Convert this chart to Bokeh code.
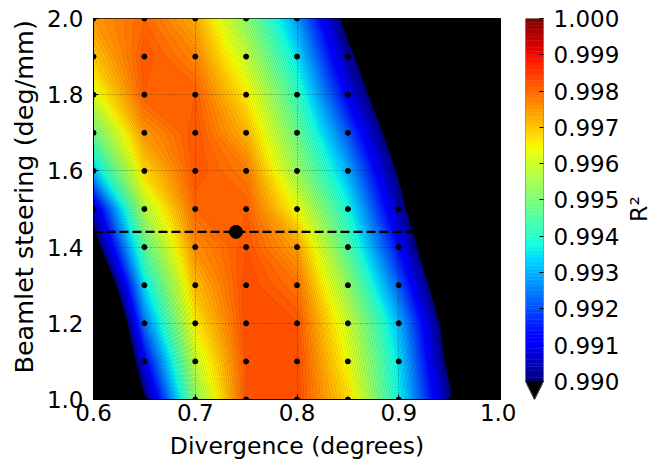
import numpy as np
from bokeh.plotting import figure
from bokeh.models import Range1d, FixedTicker, PrintfTickFormatter
from bokeh.layouts import row
from bokeh.embed import file_html
from bokeh.resources import INLINE

# Scan grid: beam divergence (degrees) x beamlet steering (deg/mm)
divergence = [0.60, 0.65, 0.70, 0.75, 0.80, 0.85, 0.90, 0.95, 1.00]
steering = [1.0, 1.1, 1.2, 1.3, 1.4, 1.5, 1.6, 1.7, 1.8, 1.9, 2.0]

# Goodness of fit R^2, one row per steering value (bottom to top)
r2_s10 = [0.9840, 0.9898, 0.9952, 0.9982, 0.9983, 0.9968, 0.9937, 0.9902, 0.9850]
r2_s11 = [0.9844, 0.9911, 0.9959, 0.9982, 0.9983, 0.9964, 0.9935, 0.9896, 0.9840]
r2_s12 = [0.9849, 0.9924, 0.9966, 0.9983, 0.9982, 0.9960, 0.9931, 0.9892, 0.9830]
r2_s13 = [0.9870, 0.9935, 0.9971, 0.9983, 0.9979, 0.9953, 0.9922, 0.9884, 0.9830]
r2_s14 = [0.9892, 0.9946, 0.9976, 0.9982, 0.9974, 0.9945, 0.9913, 0.9876, 0.9830]
r2_s15 = [0.9906, 0.9957, 0.9980, 0.9981, 0.9964, 0.9938, 0.9905, 0.9868, 0.9825]
r2_s16 = [0.9932, 0.9968, 0.9982, 0.9978, 0.9954, 0.9930, 0.9898, 0.9860, 0.9820]
r2_s17 = [0.9948, 0.9975, 0.9982, 0.9972, 0.9948, 0.9921, 0.9890, 0.9850, 0.9810]
r2_s18 = [0.9962, 0.9981, 0.9981, 0.9966, 0.9942, 0.9911, 0.9883, 0.9840, 0.9800]
r2_s19 = [0.9970, 0.9982, 0.9977, 0.9959, 0.9935, 0.9903, 0.9878, 0.9840, 0.9790]
r2_s20 = [0.9975, 0.9980, 0.9973, 0.9952, 0.9928, 0.9895, 0.9860, 0.9820, 0.9780]

# Best-fit parameters and the steering cut through them
best_divergence = 0.74
best_steering = 1.44
cut_divergence = [0.60, 0.915]

x_ticks = [0.6, 0.7, 0.8, 0.9, 1.0]
y_ticks = [1.0, 1.2, 1.4, 1.6, 1.8, 2.0]
r2_ticks = [0.990, 0.991, 0.992, 0.993, 0.994, 0.995, 0.996, 0.997, 0.998, 0.999, 1.000]
r2_low, r2_high = 0.990, 1.000

FONT = "DejaVu Sans"
FS = "23px"

r2 = np.array([r2_s10, r2_s11, r2_s12, r2_s13, r2_s14, r2_s15,
               r2_s16, r2_s17, r2_s18, r2_s19, r2_s20])
levels = np.linspace(r2_low, r2_high, 101)


def jet(v):
    r = np.interp(v, [0, 0.35, 0.66, 0.89, 1], [0, 0, 1, 1, 0.5])
    g = np.interp(v, [0, 0.125, 0.375, 0.64, 0.91, 1], [0, 0, 1, 1, 0, 0])
    b = np.interp(v, [0, 0.11, 0.34, 0.65, 1], [0.5, 1, 1, 0, 0])
    return "#%02x%02x%02x" % (int(r * 255 + 0.5), int(g * 255 + 0.5), int(b * 255 + 0.5))


def norm(v):
    return (v - r2_low) / (r2_high - r2_low)


mids = 0.5 * (levels[:-1] + levels[1:])
band_colors = [jet(norm(m)) for m in mids]
level_colors = [jet(norm(lv)) for lv in levels]


def style_axis(ax, label_size):
    ax.major_label_text_font = FONT
    ax.major_label_text_font_size = FS
    ax.major_label_text_color = "black"
    ax.axis_label_text_font = FONT
    ax.axis_label_text_font_size = label_size
    ax.axis_label_text_font_style = "normal"
    ax.axis_label_text_color = "black"
    ax.major_tick_in = 5
    ax.major_tick_out = 0
    ax.minor_tick_line_color = None
    ax.major_tick_line_color = "black"
    ax.axis_line_color = "black"


# ---- main R^2 map ----
p = figure(width=516, height=462, x_range=Range1d(0.6, 1.0), y_range=Range1d(1.0, 2.0),
           min_border_left=93, min_border_right=16, min_border_top=18, min_border_bottom=63,
           output_backend="svg", toolbar_location=None,
           background_fill_color="black", border_fill_color="white")
p.outline_line_color = "black"

# filled bands, with matching outlines so neighbouring bands join without seams
p.contour(x=divergence, y=steering, z=r2, levels=levels, fill_color=band_colors,
          line_color=level_colors, line_width=0.8)

gx, gy = np.meshgrid(divergence, steering)
p.scatter(gx.ravel(), gy.ravel(), size=5, color="black")

p.line(cut_divergence, [best_steering, best_steering], line_color="black",
       line_width=2.3, line_dash="9 4")
p.scatter([best_divergence], [best_steering], size=13, color="black")

p.xaxis.ticker = FixedTicker(ticks=x_ticks)
p.yaxis.ticker = FixedTicker(ticks=y_ticks)
p.xaxis.formatter = PrintfTickFormatter(format="%.1f")
p.yaxis.formatter = PrintfTickFormatter(format="%.1f")
p.xaxis.axis_label = "Divergence (degrees)"
p.yaxis.axis_label = "\u00a0\u00a0\u00a0Beamlet steering (deg/mm)"
style_axis(p.xaxis[0], "23.5px")
style_axis(p.yaxis[0], "25.5px")
p.xaxis.major_label_standoff = 4
p.xaxis.axis_label_standoff = 8
p.yaxis.major_label_standoff = 10
p.yaxis.axis_label_standoff = 5

p.xgrid.ticker = FixedTicker(ticks=x_ticks)
p.ygrid.ticker = FixedTicker(ticks=y_ticks)
p.grid.grid_line_color = "black"
p.grid.grid_line_alpha = 0.6
p.grid.grid_line_width = 0.7
p.grid.grid_line_dash = "1 2"
p.grid.level = "overlay"

# ---- colour bar with lower extension ----
cb = figure(width=106, height=462, x_range=Range1d(0, 1), y_range=Range1d(0.98950, r2_high),
            min_border_left=9, min_border_right=79, min_border_top=18, min_border_bottom=63,
            output_backend="svg", toolbar_location=None,
            x_axis_location=None, y_axis_location="right", border_fill_color="white")
cb.outline_line_color = None
cb.grid.visible = False
cb.quad(left=0, right=1, bottom=levels[:-1], top=levels[1:],
        fill_color=band_colors, line_color=band_colors, line_width=0.5)
cb.patch([0, 1, 0.5], [r2_low, r2_low, 0.98950], color="black")
cb.line([0, 0, 1, 1, 0.5, 0], [r2_low, r2_high, r2_high, r2_low, 0.98950, r2_low],
        line_color="#555555", line_width=1)
cb.yaxis.ticker = FixedTicker(ticks=r2_ticks)
cb.yaxis.formatter = PrintfTickFormatter(format="%.3f")
style_axis(cb.yaxis[0], "23.5px")
cb.yaxis.axis_line_color = None
cb.yaxis.major_tick_in = 4
cb.yaxis.major_label_standoff = 10

# ---- colour bar title, set in its own narrow column ----
lab = figure(width=37, height=462, x_range=Range1d(0, 1), y_range=Range1d(0, 1),
             min_border_left=30, min_border_right=6, min_border_top=18, min_border_bottom=63,
             output_backend="svg", toolbar_location=None,
             x_axis_location=None, y_axis_location="left", border_fill_color="white")
lab.outline_line_color = None
lab.grid.visible = False
lab.yaxis.ticker = FixedTicker(ticks=[])
lab.yaxis.axis_label = "R²"
style_axis(lab.yaxis[0], "23.5px")
lab.yaxis.axis_line_color = None
lab.yaxis.major_tick_in = 0
lab.yaxis.major_label_standoff = 0
lab.yaxis.axis_label_standoff = 1

layout = row(p, cb, lab, spacing=0)
open("out.html", "w").write(file_html(layout, INLINE))
